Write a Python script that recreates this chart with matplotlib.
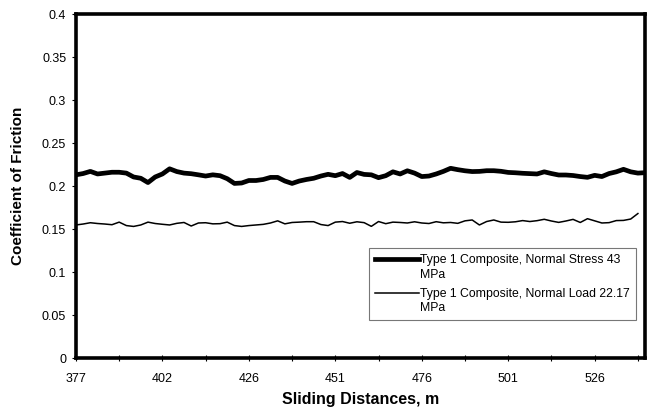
import matplotlib
matplotlib.use("Agg")
import matplotlib.pyplot as plt
from matplotlib.ticker import MultipleLocator
from matplotlib.legend_handler import HandlerLine2D

plt.rcParams['font.family'] = ['Liberation Sans', 'DejaVu Sans']

# tick labels of the category axis (one label every 12 samples)
tick_labels = ['377', '402', '426', '451', '476', '501', '526']
label_step = 12

# coefficient of friction
stress_43 = [0.213, 0.2145, 0.217, 0.214, 0.215, 0.216, 0.216, 0.215, 0.2105, 0.209,
             0.204, 0.2105, 0.214, 0.220, 0.2168, 0.215, 0.2143, 0.213, 0.2116, 0.213,
             0.212, 0.2085, 0.203, 0.2035, 0.2064, 0.2064, 0.2076, 0.210, 0.210, 0.2058,
             0.203, 0.2058, 0.2076, 0.209, 0.2116, 0.2136, 0.212, 0.2145, 0.210, 0.2157,
             0.2135, 0.213, 0.2097, 0.212, 0.2165, 0.214, 0.2177, 0.215, 0.211, 0.2116,
             0.214, 0.217, 0.2206, 0.219, 0.2177, 0.2168, 0.217, 0.2178, 0.2178, 0.2171,
             0.2158, 0.2154, 0.2148, 0.2144, 0.214, 0.2165, 0.2145, 0.2128, 0.2128, 0.2122,
             0.211, 0.2101, 0.2124, 0.211, 0.2145, 0.2165, 0.2194, 0.2165, 0.215, 0.2155]

load_2217 = [0.1547, 0.1558, 0.1573, 0.1564, 0.1558, 0.155, 0.158, 0.154, 0.153, 0.1547,
             0.158, 0.1564, 0.1555, 0.1547, 0.1566, 0.1576, 0.1535, 0.157, 0.1573, 0.156,
             0.1562, 0.158, 0.154, 0.153, 0.154, 0.1547, 0.1554, 0.157, 0.1595, 0.156,
             0.1576, 0.158, 0.1585, 0.1585, 0.1552, 0.154, 0.158, 0.1587, 0.1567, 0.1584,
             0.1574, 0.1531, 0.1587, 0.1562, 0.158, 0.1576, 0.157, 0.1584, 0.157, 0.1564,
             0.1585, 0.1572, 0.1576, 0.1566, 0.1595, 0.1605, 0.1547, 0.1587, 0.1605, 0.158,
             0.1578, 0.1584, 0.1598, 0.1587, 0.1597, 0.1613, 0.1593, 0.1577, 0.1593, 0.1612,
             0.1576, 0.162, 0.1595, 0.157, 0.1574, 0.1598, 0.16, 0.1616, 0.168]


class TopLineHandler(HandlerLine2D):
    # put the legend line level with the first text line, as in the original
    def create_artists(self, legend, orig_handle, xdescent, ydescent,
                       width, height, fontsize, trans):
        arts = super().create_artists(legend, orig_handle, xdescent, ydescent,
                                      width, height, fontsize, trans)
        for a in arts:
            a.set_ydata([y + fontsize * 0.7 for y in a.get_ydata()])
        return arts


fig = plt.figure(figsize=(6.49, 4.18), dpi=100)
ax = fig.add_axes([0.117, 0.1435, 0.877, 0.823])

l1, = ax.plot(range(len(stress_43)), stress_43, color='black', lw=3.4,
              label='Type 1 Composite, Normal Stress 43\nMPa')
l2, = ax.plot(range(len(load_2217)), load_2217, color='black', lw=1.1,
              label='Type 1 Composite, Normal Load 22.17\nMPa')

ax.set_xlim(0, len(stress_43) - 1)
ax.set_ylim(0, 0.4)
ax.set_xticks([i * label_step for i in range(len(tick_labels))])
ax.set_xticklabels(tick_labels)
ax.xaxis.set_minor_locator(MultipleLocator(label_step / 2))
ax.set_yticks([0, 0.05, 0.1, 0.15, 0.2, 0.25, 0.3, 0.35, 0.4])
ax.set_yticklabels(['0', '0.05', '0.1', '0.15', '0.2', '0.25', '0.3', '0.35', '0.4'])

for s in ax.spines.values():
    s.set_linewidth(2.6)
ax.tick_params(axis='x', which='both', direction='inout', length=4, width=0.8,
               labelsize=9, pad=9)
ax.tick_params(axis='y', which='both', direction='out', length=3, width=0.8,
               labelsize=9, pad=4)

ax.set_xlabel('Sliding Distances, m', fontsize=11.5, fontweight='bold', labelpad=5)
ax.set_ylabel('Coefficient of Friction', fontsize=11, fontweight='bold', labelpad=12)

leg = ax.legend(loc='upper left', bbox_to_anchor=(369 / 649, 1 - 248 / 418),
                bbox_transform=fig.transFigure, fontsize=8.8, frameon=True,
                fancybox=False, handlelength=3.6, handletextpad=0.05,
                borderpad=0.5, labelspacing=0.55, borderaxespad=0,
                handler_map={l1: TopLineHandler(), l2: TopLineHandler()})
leg.get_frame().set_edgecolor('#555555')
leg.get_frame().set_linewidth(0.8)
for t in leg.get_texts():
    t.set_linespacing(1.3)

plt.savefig('out.png', dpi=100)
